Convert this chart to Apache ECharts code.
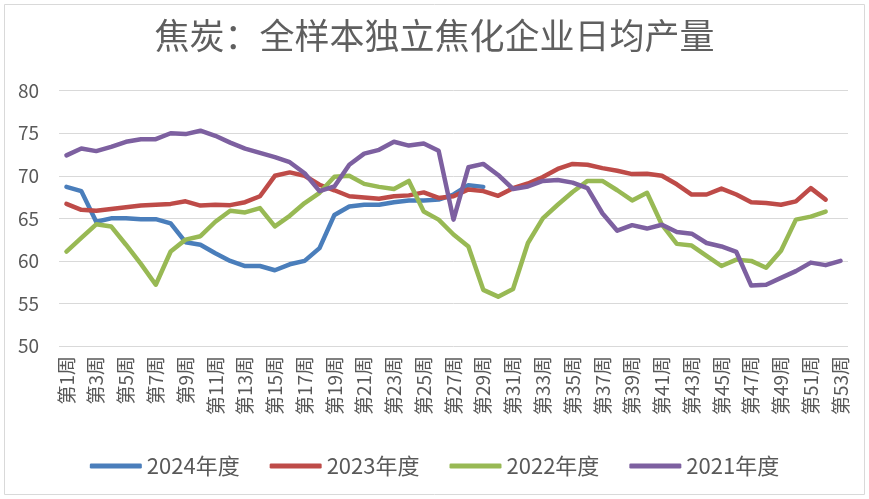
<!DOCTYPE html>
<html><head><meta charset="utf-8">
<script src="https://cdn.jsdelivr.net/npm/echarts@6/dist/echarts.min.js"></script>
<style>html,body{margin:0;padding:0;background:#fff}#c{width:869px;height:499px}</style>
</head><body><div id="c"></div>
<script>
const weeks = [];
for (let i = 1; i <= 53; i++) weeks.push('第' + i + '周');
const s2024 = [68.7,68.2,64.6,65.0,65.0,64.9,64.9,64.4,62.2,61.9,60.9,60.0,59.4,59.4,58.9,59.6,60.0,61.5,65.4,66.4,66.6,66.6,66.9,67.1,67.1,67.2,67.8,68.9,68.7];
const s2023 = [66.7,66.0,65.9,66.1,66.3,66.5,66.6,66.7,67.0,66.5,66.6,66.55,66.9,67.6,70.0,70.4,70.0,68.95,68.3,67.6,67.45,67.3,67.6,67.7,68.05,67.4,67.6,68.4,68.2,67.65,68.55,69.1,69.85,70.8,71.4,71.3,70.9,70.6,70.2,70.25,70.0,69.0,67.8,67.8,68.5,67.8,66.9,66.8,66.6,67.0,68.55,67.2];
const s2022 = [61.1,62.7,64.3,64.05,61.9,59.65,57.2,61.1,62.5,62.9,64.6,65.9,65.7,66.2,64.05,65.3,66.8,68.0,69.9,70.0,69.05,68.7,68.45,69.4,65.8,64.85,63.1,61.7,56.6,55.8,56.7,62.1,65.0,66.6,68.1,69.4,69.4,68.3,67.1,68.0,64.25,62.0,61.8,60.6,59.4,60.15,60.0,59.2,61.2,64.85,65.2,65.8];
const s2021 = [72.4,73.2,72.9,73.4,74.0,74.3,74.3,75.0,74.9,75.3,74.7,73.9,73.2,72.7,72.2,71.6,70.3,68.2,68.75,71.3,72.6,73.05,74.0,73.55,73.8,72.95,64.85,71.0,71.4,70.1,68.45,68.75,69.4,69.5,69.2,68.55,65.6,63.55,64.2,63.8,64.25,63.4,63.2,62.1,61.7,61.05,57.1,57.2,58.0,58.8,59.8,59.5,60.0];
const seriesNames = ['2024年度','2023年度','2022年度','2021年度'];
const seriesData = [s2024, s2023, s2022, s2021];
const colors = ['#4A7EBB','#BE4B48','#98B954','#7D60A0'];
const yTicks = {min:50, max:80, interval:5};

const chart = echarts.init(document.getElementById('c'));
const font = '"Noto Sans CJK SC", "Noto Sans", sans-serif';
chart.setOption({
  animation: false,
  color: colors,
  title: {
    text: '焦炭：全样本独立焦化企业日均产量',
    left: 'center', top: 13,
    textStyle: {fontFamily: font, fontSize: 35, fontWeight: 'normal', color: '#5f5f5f'}
  },
  graphic: [{type:'rect', shape:{x:4.5,y:4.5,width:860,height:490}, style:{fill:'none', stroke:'#d9d9d9', lineWidth:1}, silent:true}],
  legend: {
    data: seriesNames,
    bottom: 17, left: 'center',
    itemWidth: 52, itemHeight: 5, itemGap: 30,
    icon: 'roundRect',
    textStyle: {fontFamily: font, fontSize: 22, color: '#595959'}
  },
  grid: {left: 59, right: 21, top: 90.7, bottom: 153, containLabel: false},
  xAxis: {
    type: 'category', data: weeks, boundaryGap: true,
    axisLine: {show: false}, axisTick: {show: false},
    axisLabel: {rotate: 90, interval: 1, margin: 10, fontFamily: font, fontSize: 19, color: '#595959'}
  },
  yAxis: {
    type: 'value', min: yTicks.min, max: yTicks.max, interval: yTicks.interval,
    axisLine: {show: false}, axisTick: {show: false},
    axisLabel: {margin: 20, fontFamily: font, fontSize: 19, color: '#595959'},
    splitLine: {lineStyle: {color: '#d9d9d9', width: 1}}
  },
  series: seriesNames.map((n, i) => ({
    name: n, type: 'line', data: seriesData[i], symbol: 'none', smooth: false,
    lineStyle: {width: 4.5, color: colors[i], cap: 'round', join: 'round'},
    itemStyle: {color: colors[i]}
  }))
});
</script></body></html>
